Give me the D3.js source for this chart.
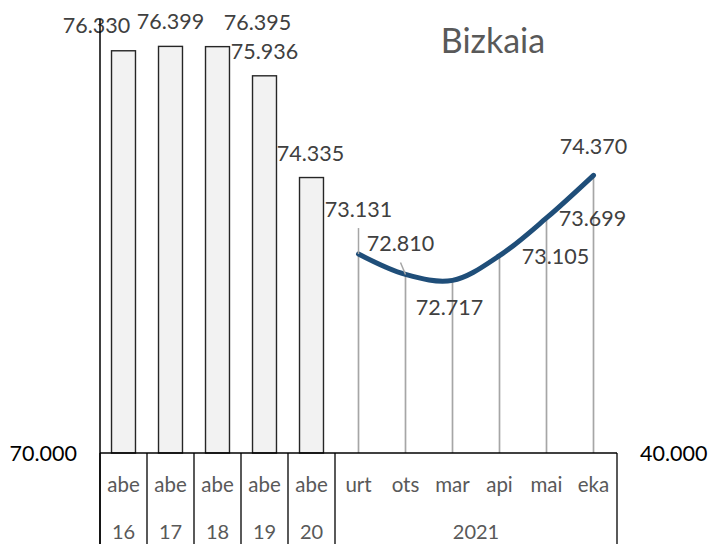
<!DOCTYPE html>
<html><head><meta charset="utf-8">
<script src="https://cdn.jsdelivr.net/npm/d3@7/dist/d3.min.js"></script>
<style>
html,body{margin:0;padding:0;background:#fff;}
svg{display:block;font-family:Lato,"Open Sans",sans-serif;}
</style></head>
<body>
<script>
// ---- data ----
const title = "Bizkaia";
const categories = ["abe","abe","abe","abe","abe","urt","ots","mar","api","mai","eka"];
const groupLabels = ["16","17","18","19","20","2021"];
const groupSpans = [1,1,1,1,1,6];
const barValues = [76330, 76399, 76395, 75936, 74335];          // abe 16..20
const lineValues = [73131, 72810, 72717, 73105, 73699, 74370];  // 2021 urt..eka
const leftTickValues = [70000];
const rightTickValues = [40000];

// ---- layout ----
const W = 709, H = 544;
const plot = {left: 100, right: 617, top: 19, base: 453};
// manual label nudges [dx, dy] relative to default placement (as in source chart)
const barLabelNudge = [[-27,-1],[0,0],[40,0],[0,0],[-1,0]];
const lineLabelNudge = [[0,-37],[-5,-23],[-3,35],[56,8],[46,8],[0,-21]];
const leaderFor = [true, true, false, false, false, false];

const loc = d3.formatLocale({decimal: ",", thousands: ".", grouping: [3], currency: ["", ""]});
const fmt = loc.format(",d");

const svg = d3.select("body").append("svg").attr("width", W).attr("height", H);
svg.append("rect").attr("width", W).attr("height", H).attr("fill", "#fff");

const x = d3.scaleBand().domain(d3.range(categories.length)).range([plot.left, plot.right]).padding(0);
const y = d3.scaleLinear().domain([70000, 76830]).range([plot.base, plot.top]);
const yRight = d3.scaleLinear().domain([40000, 80000]).range([plot.base, plot.top]);
const barW = x.bandwidth() * 0.51;
const cx = i => x(i) + x.bandwidth() / 2;

const nBars = barValues.length;
const linePts = lineValues.map((v, j) => ({i: nBars + j, v}));

// drop lines
svg.append("g").selectAll("line").data(linePts).join("line")
  .attr("x1", d => cx(d.i)).attr("x2", d => cx(d.i))
  .attr("y1", d => y(d.v)).attr("y2", plot.base)
  .attr("stroke", "#a6a6a6").attr("stroke-width", 1.7);

// bars
svg.append("g").selectAll("rect").data(barValues).join("rect")
  .attr("x", (d, i) => cx(i) - barW / 2).attr("width", barW)
  .attr("y", d => y(d)).attr("height", d => plot.base - y(d))
  .attr("fill", "#f2f2f2").attr("stroke", "#262626").attr("stroke-width", 1.4);

// line
const lineGen = d3.line().x(d => cx(d.i)).y(d => y(d.v)).curve(d3.curveCatmullRom.alpha(0.5));
svg.append("path").datum(linePts).attr("d", lineGen)
  .attr("fill", "none").attr("stroke", "#1f4e79").attr("stroke-width", 5)
  .attr("stroke-linecap", "round").attr("stroke-linejoin", "round");

// leader lines
linePts.forEach((d, j) => {
  if (!leaderFor[j]) return;
  const lx = cx(d.i) + lineLabelNudge[j][0];
  const ly = y(d.v) + lineLabelNudge[j][1] + 11;
  svg.append("line").attr("x1", lx).attr("y1", ly).attr("x2", cx(d.i)).attr("y2", y(d.v))
    .attr("stroke", "#a6a6a6").attr("stroke-width", 1.5);
});

// data labels
const lblStyle = s => s.attr("font-size", 21.5).attr("fill", "#404040").attr("text-anchor", "middle");
svg.append("g").selectAll("text").data(barValues).join("text")
  .call(lblStyle)
  .attr("x", (d, i) => cx(i) + barLabelNudge[i][0])
  .attr("y", (d, i) => y(d) - 17 + barLabelNudge[i][1])
  .text(d => fmt(d));
svg.append("g").selectAll("text").data(linePts).join("text")
  .call(lblStyle)
  .attr("x", (d, j) => cx(d.i) + lineLabelNudge[j][0])
  .attr("y", (d, j) => y(d.v) + lineLabelNudge[j][1])
  .text(d => fmt(d.v));

// axes lines
const axisCol = "#000";
svg.append("line").attr("x1", plot.left).attr("x2", plot.left).attr("y1", plot.top).attr("y2", H)
  .attr("stroke", axisCol).attr("stroke-width", 1.5);
svg.append("line").attr("x1", plot.left).attr("x2", plot.right).attr("y1", plot.base).attr("y2", plot.base)
  .attr("stroke", axisCol).attr("stroke-width", 1.5);

// group separators
let acc = 0;
const bounds = [0];
groupSpans.forEach(s => { acc += s; bounds.push(acc); });
bounds.forEach(b => {
  const bx = b < categories.length ? x(b) : plot.right;
  svg.append("line").attr("x1", bx).attr("x2", bx).attr("y1", plot.base).attr("y2", H)
    .attr("stroke", axisCol).attr("stroke-width", 1.3);
});

// category labels
svg.append("g").selectAll("text").data(categories).join("text")
  .attr("x", (d, i) => cx(i)).attr("y", 492)
  .attr("text-anchor", "middle").attr("font-size", 20.5).attr("fill", "#595959")
  .text(d => d);
svg.append("g").selectAll("text").data(groupLabels).join("text")
  .attr("x", (d, k) => (x(bounds[k]) + (bounds[k+1] < categories.length ? x(bounds[k+1]) : plot.right)) / 2)
  .attr("y", 539)
  .attr("text-anchor", "middle").attr("font-size", 20).attr("fill", "#595959")
  .text(d => d);

// value axes tick labels
svg.append("g").selectAll("text").data(leftTickValues).join("text")
  .attr("x", 77).attr("y", d => y(d) + 8)
  .attr("text-anchor", "end").attr("font-size", 21.5).attr("fill", "#000")
  .text(d => fmt(d));
svg.append("g").selectAll("text").data(rightTickValues).join("text")
  .attr("x", 640).attr("y", d => yRight(d) + 8)
  .attr("text-anchor", "start").attr("font-size", 21.5).attr("fill", "#000")
  .text(d => fmt(d));

// title
svg.append("text").attr("x", 493).attr("y", 53).attr("text-anchor", "middle")
  .attr("font-size", 34).attr("fill", "#595959").text(title);
</script>
</body></html>
